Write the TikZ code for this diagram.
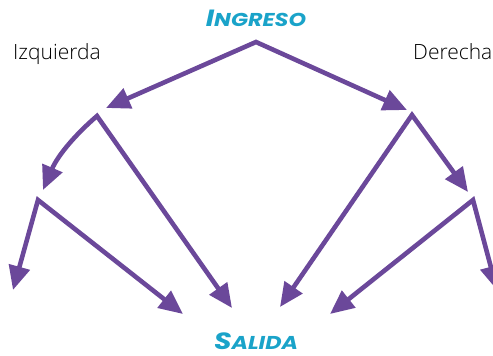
\documentclass[tikz,border=0pt]{standalone}
\usepackage{fontspec}
\setmainfont{Open Sans Light}
\newfontfamily\titlefont{Poppins}
\usetikzlibrary{arrows.meta}
\definecolor{flowpurple}{HTML}{6B489A}
\definecolor{titlecyan}{HTML}{1AA3C9}
\newcommand{\fakecaps}[2]{\scalebox{1.2}[1]{\kern2pt{\fontsize{23.5}{24}\selectfont #1}{\fontsize{18.6}{19}\selectfont #2}\kern2pt}}
\begin{document}
\begin{tikzpicture}[x=1pt,y=-1pt,
  flow/.style={draw=flowpurple,line width=4.6pt,line join=miter,
    {Triangle[length=24pt,width=21pt]}-{Triangle[length=24pt,width=21pt]}},
  title/.style={text=titlecyan,inner sep=1pt,font=\titlefont\bfseries\itshape},
  side/.style={inner sep=0pt,anchor=base west,font=\fontsize{21}{22}\selectfont}]
\useasboundingbox (0,0) rectangle (493,356);
% labels
\node[title] (ingreso) at (256,18.5) {\fakecaps{I}{NGRESO}};
\node[title] (salida) at (256,341.5) {\fakecaps{S}{ALIDA}};
\node[side] (izq) at (13,59) {Izquierda};
\node[side] (der) at (413,59) {Derecha};
% branch points
\coordinate (apex) at (256,42);
\coordinate (l1) at (97,116);
\coordinate (r1) at (412,115);
\coordinate (l2) at (38,200);
\coordinate (r2) at (473,200);
% arrow ends
\coordinate (l1in) at (106,108);
\coordinate (r1in) at (407,110);
\coordinate (l2in) at (43,190);
\coordinate (r2in) at (468,192);
\coordinate (l1out) at (232,308);
\coordinate (r1out) at (280,307);
\coordinate (l2out) at (13,290);
\coordinate (l2mid) at (183,314);
\coordinate (r2out) at (497,290);
\coordinate (r2mid) at (330,314);
% connectors
\draw[flow] (l1in) -- (apex) -- (r1in);
\draw[flow] (l2in) .. controls (58,155) and (76,134) .. (l1) -- (l1out);
\draw[flow] (r2in) -- (r1) -- (r1out);
\draw[flow] (l2out) -- (l2) -- (l2mid);
\draw[flow] (r2out) -- (r2) -- (r2mid);
\end{tikzpicture}
\end{document}
